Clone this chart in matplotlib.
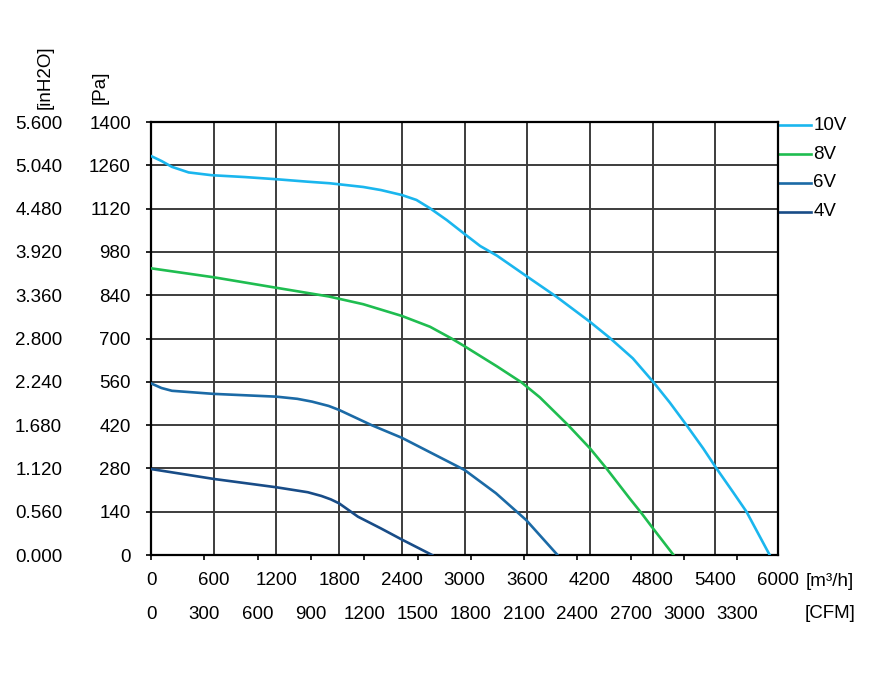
import matplotlib
matplotlib.use("Agg")
import matplotlib.pyplot as plt

plt.rcParams['font.family'] = ['Liberation Sans', 'DejaVu Sans']

# fan curves: airflow [m3/h] vs static pressure [Pa]
flow_10v = [0, 100, 200, 360, 580, 900, 1200, 1500, 1710, 2030, 2200, 2400, 2540, 2670, 2830, 3000, 3150,
            3310, 3600, 3880, 4200, 4390, 4610, 4805, 4964, 5124, 5283, 5411, 5570, 5698, 5920]
pa_10v = [1290, 1274, 1255, 1237, 1228, 1222, 1215, 1207, 1202, 1190, 1180, 1164, 1148, 1121, 1083, 1038, 999,
          968, 900, 835, 754, 702, 636, 560, 493, 420, 345, 280, 203, 140, 0]

flow_8v = [0, 600, 1200, 1700, 2030, 2400, 2670, 2876, 3000, 3310, 3546, 3720, 3991, 4200, 4358, 4580, 4694, 4790, 5000]
pa_8v = [927, 898, 864, 836, 811, 773, 738, 700, 675, 610, 558, 510, 420, 345, 280, 183, 135, 92, 0]

flow_6v = [0, 100, 200, 600, 1200, 1400, 1540, 1700, 1800, 2110, 2400, 3000, 3300, 3590, 3890]
pa_6v = [555, 540, 531, 521, 512, 505, 496, 482, 469, 420, 379, 275, 200, 113, 0]

flow_4v = [0, 600, 1200, 1500, 1630, 1720, 1800, 1980, 2200, 2400, 2690]
pa_4v = [278, 246, 219, 203, 191, 180, 167, 124, 86, 50, 0]

curves = [
    ("10V", flow_10v, pa_10v, "#1ab6ee"),
    ("8V", flow_8v, pa_8v, "#1fbd50"),
    ("6V", flow_6v, pa_6v, "#1b6aa6"),
    ("4V", flow_4v, pa_4v, "#184c87"),
]

m3h_ticks = list(range(0, 6001, 600))
pa_ticks = list(range(0, 1401, 140))
cfm_ticks = list(range(0, 3301, 300))
inh2o_ticks = [0.0, 0.56, 1.12, 1.68, 2.24, 2.8, 3.36, 3.92, 4.48, 5.04, 5.6]
legend_y = [1390, 1295, 1203, 1110]  # Pa level where each legend stub sits

fs = 13.5

fig = plt.figure(figsize=(8.75, 6.73), dpi=100)
ax = fig.add_axes([0.1726, 0.1753, 0.7166, 0.6434])

for name, x, y, c in curves:
    ax.plot(x, y, color=c, lw=1.9, zorder=3, solid_joinstyle="round")

ax.set_xlim(0, 6000)
ax.set_ylim(0, 1400)
ax.set_xticks(m3h_ticks)
ax.set_yticks(pa_ticks)
ax.grid(True, color="#3c3c3c", lw=1.4, zorder=1)
for s in ax.spines.values():
    s.set_linewidth(1.6)
    s.set_color("black")

ax.tick_params(axis="x", length=0, pad=12, labelsize=fs)
ax.tick_params(axis="y", length=3.5, width=1.2, pad=11, labelsize=fs)

# CFM scale under the m3/h scale
cfm = ax.secondary_xaxis("bottom", functions=(lambda q: q / 1.7, lambda c: c * 1.7))
cfm.set_xticks(cfm_ticks)
cfm.tick_params(length=3.5, width=1.2, pad=33, labelsize=fs)
cfm.spines["bottom"].set_visible(False)

# inH2O scale left of the Pa scale
inh = ax.secondary_yaxis("left", functions=(lambda p: p / 250, lambda i: i * 250))
inh.set_yticks(inh2o_ticks)
inh.set_yticklabels(["%.3f" % v for v in inh2o_ticks])
inh.tick_params(length=0, pad=64, labelsize=fs)
inh.spines["left"].set_visible(False)

# unit labels
fig.text(45 / 875, 1 - 77 / 673, "[inH2O]", rotation=90, ha="center", va="center", fontsize=fs)
fig.text(100 / 875, 1 - 87 / 673, "[Pa]", rotation=90, ha="center", va="center", fontsize=fs)
ax.text(1.044, -0.06, "[m³/h]", transform=ax.transAxes, ha="left", va="center", fontsize=fs)
ax.text(1.042, -0.135, "[CFM]", transform=ax.transAxes, ha="left", va="center", fontsize=fs)

# legend stubs to the right of the frame
for (name, x, y, c), ly in zip(curves, legend_y):
    yy = ly / 1400
    ax.plot([1.0, 1.053], [yy, yy], color=c, lw=1.9, transform=ax.transAxes, clip_on=False)
    ax.text(1.056, yy, name, transform=ax.transAxes, ha="left", va="center", fontsize=fs)

fig.savefig("out.png", dpi=100)
